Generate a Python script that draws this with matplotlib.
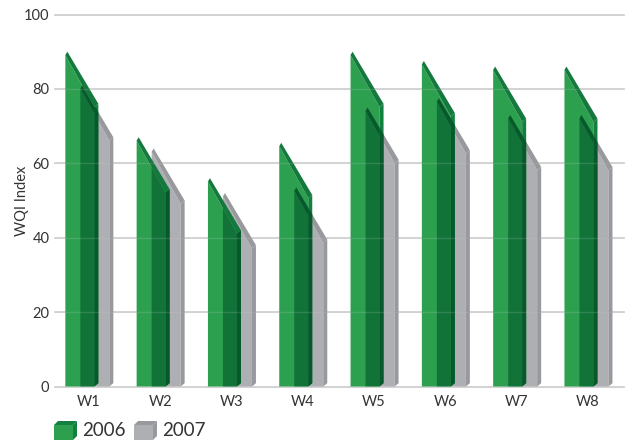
import matplotlib
matplotlib.use('Agg')
import matplotlib.pyplot as plt
from matplotlib.patches import Polygon

plt.rcParams['font.family'] = ['Lato', 'DejaVu Sans']

# Data
weeks = ['W1', 'W2', 'W3', 'W4', 'W5', 'W6', 'W7', 'W8']
wqi_2006 = [90, 67, 56, 65.5, 90, 87.5, 86, 86]
wqi_2007 = [81, 64, 52, 53.5, 75, 77.5, 73, 73]
yticks = [0, 20, 40, 60, 80, 100]

# Colours
front_green = '#2ca04f'
side_green = '#12803f'
top_green = '#14793c'
over_green = '#117338'
over_dark = '#07592b'
front_grey = '#aeafb3'
side_grey = '#98999d'
grid_col = '#cdcdcd'
text_col = '#333333'

# 3D look, in data units (71.3 px per category, 3.72 px per index point)
w = 29 / 71.3
d = 4 / 71.3
dy = 0.9
drop = 14.0
off = 15 / 71.3

fig = plt.figure(figsize=(6.27, 4.41), dpi=100)
ax = fig.add_axes([55 / 627, 1 - 386.5 / 441, 569 / 627, 372 / 441])
ax.set_xlim(-0.475, 7.505)
ax.set_ylim(0, 100)


def faces(x0, v):
    v = v - dy
    front = [(x0, 0), (x0, v), (x0 + w, v - drop), (x0 + w, 0)]
    side = [(x0 + w, 0), (x0 + w, v - drop), (x0 + w + d, v - drop + dy), (x0 + w + d, dy)]
    top = [(x0, v), (x0 + d * 0.5, v + dy), (x0 + w + d, v - drop + dy), (x0 + w, v - drop)]
    return front, side, top


for i in range(len(weeks)):
    x1 = i - 0.33
    x2 = x1 + off
    f1, s1, t1 = faces(x1, wqi_2006[i])
    f2, s2, t2 = faces(x2, wqi_2007[i])
    # 2007 bar behind
    ax.add_patch(Polygon(f2, fc=front_grey, ec='none', zorder=3))
    ax.add_patch(Polygon(s2, fc=side_grey, ec='none', zorder=3))
    ax.add_patch(Polygon(t2, fc=side_grey, ec='none', zorder=3))
    # 2006 bar
    pf = Polygon(f1, fc=front_green, ec='none', zorder=4)
    ps = Polygon(s1, fc=side_green, ec='none', zorder=4)
    pt = Polygon(t1, fc=top_green, ec='none', zorder=4)
    ax.add_patch(pf)
    ax.add_patch(ps)
    ax.add_patch(pt)
    # where 2007 shows through the green bar
    for face, clip, col in [(f2, pf, over_green), (t2, pf, over_dark),
                            (f2, ps, over_dark), (t2, ps, over_dark)]:
        over = Polygon(face, fc=col, ec='none', zorder=5)
        ax.add_patch(over)
        over.set_clip_path(clip)

for y in yticks:
    ax.axhline(y, color=grid_col, lw=1.2, zorder=1, clip_on=False)
    ax.axhline(y, color=grid_col, lw=1.0, alpha=0.18, zorder=6, clip_on=False)

for s in ax.spines.values():
    s.set_visible(False)
ax.set_xticks(range(len(weeks)))
ax.set_xticklabels(weeks)
ax.set_yticks(yticks)
ax.tick_params(length=0, labelsize=10.5, labelcolor=text_col, pad=4)
ax.tick_params(axis='x', pad=6)
ax.set_ylabel('WQI Index', fontsize=10.5, color=text_col)
ax.yaxis.set_label_coords(-26 / 569, 0.5)

# Legend drawn in pixel coordinates
leg = fig.add_axes([0, 0, 1, 1], facecolor='none')
leg.set_xlim(0, 627)
leg.set_ylim(441, 0)
leg.axis('off')


def key(x, front, side):
    leg.add_patch(Polygon([(x, 425), (x + 19, 425), (x + 19, 440), (x, 440)], fc=front, ec='none'))
    leg.add_patch(Polygon([(x, 425), (x + 4, 421), (x + 23, 421), (x + 19, 425)], fc=side, ec='none'))
    leg.add_patch(Polygon([(x + 19, 425), (x + 23, 421), (x + 23, 436), (x + 19, 440)], fc=side, ec='none'))


key(54, front_green, side_green)
key(134, front_grey, side_grey)
leg.text(82, 431, '2006', fontsize=13.5, color=text_col, va='center')
leg.text(162, 431, '2007', fontsize=13.5, color=text_col, va='center')

fig.savefig('out.png', dpi=100)
